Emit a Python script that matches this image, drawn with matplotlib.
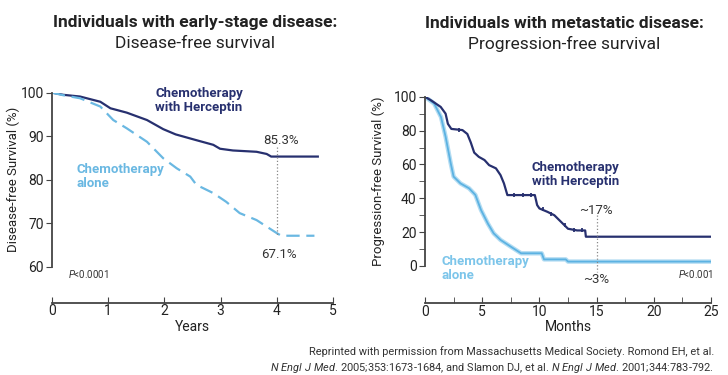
import matplotlib
matplotlib.use("Agg")
import matplotlib.pyplot as plt
from matplotlib.ticker import MultipleLocator

plt.rcParams['font.family'] = ['Roboto', 'DejaVu Sans']
plt.rcParams['mathtext.fontset'] = 'custom'
plt.rcParams['mathtext.it'] = 'Roboto:italic'
plt.rcParams['mathtext.rm'] = 'Roboto'

NAVY = '#27306f'
LIGHT = '#6ab8e2'
GREY = '#444444'

# early-stage disease, disease-free survival (years, %)
dfs_years_herc = [0, 0.2, 0.5, 0.86, 1.04, 1.33, 1.69, 1.98, 2.2, 2.56, 2.87, 2.99, 3.22, 3.64, 3.82, 3.9, 4.73]
dfs_herc = [100, 99.5, 99.1, 97.9, 96.4, 95.4, 93.7, 91.6, 90.4, 89.1, 88.0, 87.1, 86.7, 86.4, 85.9, 85.3, 85.3]
dfs_years_chemo = [0, 0.2, 0.5, 0.86, 1.09, 1.33, 1.69, 1.98, 2.22, 2.46, 2.57, 2.87, 3.1, 3.34, 3.64, 4.0, 4.08, 4.67]
dfs_chemo = [100, 99.4, 98.7, 96.8, 93.7, 91.8, 88.7, 84.9, 82.6, 80.7, 78.8, 76.9, 74.9, 72.3, 70.7, 67.7, 67.1, 67.1]

# metastatic disease, progression-free survival (months, %)
pfs_months_herc = [0, 0.5, 1.37, 1.8, 2.0, 2.3, 3.27, 3.7, 4.0, 4.3, 4.7, 5.2, 5.6, 6.2, 6.6, 6.9, 7.2,
                   9.6, 9.8, 10.0, 10.7, 11.3, 11.9, 12.5, 13.3, 14.0, 14.06, 25]
pfs_herc = [100, 98, 94, 90, 84, 81, 80.3, 78, 73, 67, 64.5, 62.6, 59.6, 57.7, 53.7, 48.8, 41.9,
            41.9, 36, 34, 32, 30, 26, 22, 21, 21, 17.3, 17.3]
pfs_months_chemo = [0, 0.8, 1.4, 1.8, 2.25, 2.5, 3.1, 3.85, 4.4, 4.9, 5.5, 6.0, 6.6, 7.5, 8.4,
                    10.2, 10.4, 12.3, 12.5, 25]
pfs_chemo = [100, 96, 88, 76.4, 60.6, 52.8, 48.8, 45.9, 42, 33, 25, 19.3, 15.4, 11.4, 7.5,
             7.5, 3.9, 3.9, 2.6, 2.6]
# censor marks on the Herceptin curve
cens_months = [3.0, 7.8, 8.6, 9.3, 10.3, 11.0, 12.2, 13.0, 13.7]
cens_vals = [80.3, 41.9, 41.9, 41.9, 33.5, 31, 24, 21, 21]

fig = plt.figure(figsize=(7.28, 3.75), dpi=100)

# ---- left panel ----
ax1 = fig.add_axes([0.0714, 0.289, 0.386, 0.464])
ax1.plot(dfs_years_herc, dfs_herc, color=NAVY, lw=1.6)
ax1.plot(dfs_years_chemo, dfs_chemo, color=LIGHT, lw=1.6, ls=(0, (6, 3)))
ax1.plot([4, 4], [87.6, 67.3], color='#888888', lw=0.9, ls=':')
ax1.set_xlim(0, 5)
ax1.set_ylim(60, 100)
ax1.set_yticks([60, 70, 80, 90, 100])
ax1.set_xticks([0, 1, 2, 3, 4, 5])
ax1.spines['top'].set_visible(False)
ax1.spines['right'].set_visible(False)
ax1.spines['bottom'].set_position(('outward', 26))
for s in ['left', 'bottom']:
    ax1.spines[s].set_color(GREY)
    ax1.spines[s].set_linewidth(1.3)
ax1.tick_params(axis='y', direction='out', length=4, color=GREY, labelsize=10, labelcolor='#222222', pad=2)
ax1.tick_params(axis='x', direction='in', length=4, color=GREY, labelsize=10, labelcolor='#222222', pad=1)
ax1.set_ylabel('Disease-free Survival (%)', fontsize=9.5, color='#222222')
ax1.yaxis.set_label_coords(-0.114, 0.5)
ax1.set_xlabel('Years', fontsize=10, color='#222222', labelpad=1)
ax1.text(1.84, 101.2, 'Chemotherapy\nwith Herceptin', color=NAVY, fontsize=9.5, fontweight='bold',
         va='top', ha='left', linespacing=1.1)
ax1.text(0.44, 83.8, 'Chemotherapy\nalone', color=LIGHT, fontsize=9.5, fontweight='bold',
         va='top', ha='left', linespacing=1.1)
ax1.text(4.07, 88.9, '85.3%', fontsize=9.5, color='#333333', ha='center', va='center')
ax1.text(4.04, 62.7, '67.1%', fontsize=9.5, color='#333333', ha='center', va='center')
ax1.text(0.29, 58.3, '$P$<0.0001', fontsize=7, color='#333333', ha='left', va='center')

# ---- right panel ----
ax2 = fig.add_axes([0.5838, 0.2907, 0.3929, 0.4513])
ax2.plot(pfs_months_chemo, pfs_chemo, color='#b3dcf2', lw=3.2)
ax2.plot(pfs_months_chemo, pfs_chemo, color='#5cb2e2', lw=1.3)
ax2.plot(pfs_months_herc, pfs_herc, color=NAVY, lw=1.6)
ax2.plot(cens_months, cens_vals, ls='none', marker='|', ms=3.5, mew=1.3, color=NAVY)
ax2.plot([15, 15], [30, -3.3], color='#888888', lw=0.9, ls=':', clip_on=False)
ax2.set_xlim(0, 25)
ax2.set_ylim(0, 100)
ax2.xaxis.set_major_locator(MultipleLocator(5))
ax2.xaxis.set_minor_locator(MultipleLocator(2.5))
ax2.yaxis.set_major_locator(MultipleLocator(20))
ax2.yaxis.set_minor_locator(MultipleLocator(10))
ax2.spines['top'].set_visible(False)
ax2.spines['right'].set_visible(False)
ax2.spines['bottom'].set_position(('outward', 27))
for s in ['left', 'bottom']:
    ax2.spines[s].set_color(GREY)
    ax2.spines[s].set_linewidth(1.3)
ax2.tick_params(axis='y', which='both', direction='out', length=4, color=GREY, labelsize=10,
                labelcolor='#222222', pad=2)
ax2.tick_params(axis='x', which='both', direction='in', length=4, color=GREY, labelsize=10,
                labelcolor='#222222', pad=1)
ax2.set_ylabel('Progression-free Survival (%)', fontsize=9.5, color='#222222')
ax2.yaxis.set_label_coords(-0.14, 0.5)
ax2.set_xlabel('Months', fontsize=10, color='#222222', labelpad=1)
ax2.text(9.35, 62, 'Chemotherapy\nwith Herceptin', color=NAVY, fontsize=9.5, fontweight='bold',
         va='top', ha='left', linespacing=1.1)
ax2.text(1.4, 6.2, 'Chemotherapy\nalone', color='#7cc5ea', fontsize=9.5, fontweight='bold',
         va='top', ha='left', linespacing=1.1)
ax2.text(14.95, 33, '~17%', fontsize=9.5, color='#333333', ha='center', va='center')
ax2.text(15.0, -7.7, '~3%', fontsize=9.5, color='#333333', ha='center', va='center')
ax2.text(25.2, -4.7, '$P$<0.001', fontsize=7, color='#333333', ha='right', va='center')

# ---- titles ----
fig.text(195 / 728, 1 - 23 / 375, 'Individuals with early-stage disease:', fontsize=12.5,
         fontweight='bold', ha='center', va='center', color='#222222')
fig.text(195 / 728, 1 - 44 / 375, 'Disease-free survival', fontsize=12.5,
         ha='center', va='center', color='#222222')
fig.text(564 / 728, 1 - 23 / 375, 'Individuals with metastatic disease:', fontsize=12.5,
         fontweight='bold', ha='center', va='center', color='#222222')
fig.text(564 / 728, 1 - 44 / 375, 'Progression-free survival', fontsize=12.5,
         ha='center', va='center', color='#222222')

# ---- source note ----
fig.text(714 / 728, 1 - 352 / 375,
         'Reprinted with permission from Massachusetts Medical Society. Romond EH, et al.',
         fontsize=7.9, ha='right', va='center', color='#333333')
fig.text(714 / 728, 1 - 368 / 375,
         r'$N\ Engl\ J\ Med$. 2005;353:1673-1684, and Slamon DJ, et al. $N\ Engl\ J\ Med$. 2001;344:783-792.',
         fontsize=7.9, ha='right', va='center', color='#333333')

fig.savefig('out.png', dpi=100)
